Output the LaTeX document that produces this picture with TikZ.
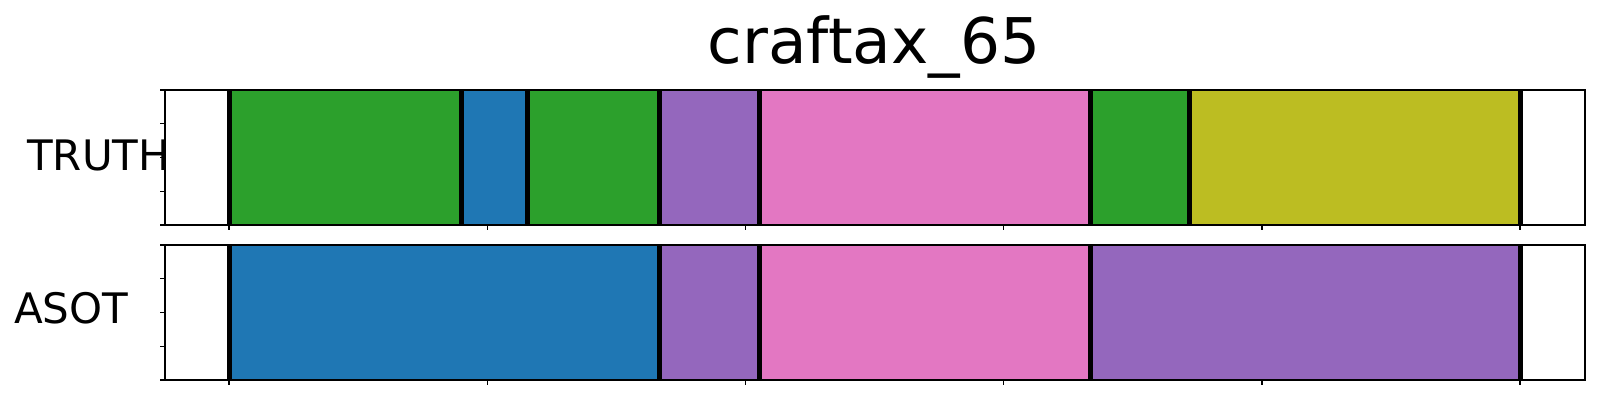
\documentclass[tikz,border=0pt]{standalone}
\usepackage{fontspec}
\setmainfont{DejaVu Sans}
\usepackage{xcolor}
\usepackage{tikz}
\usetikzlibrary{positioning}
\definecolor{tgreen}{HTML}{2CA02C}
\definecolor{tblue}{HTML}{1F77B4}
\definecolor{tpurple}{HTML}{9467BD}
\definecolor{tpink}{HTML}{E377C2}
\definecolor{tolive}{HTML}{BCBD22}
\tikzset{
  frame/.style={draw=black, line width=2pt, line join=miter},
  cut/.style={draw=black, line width=5pt},
  tick/.style={draw=black, line width=1.4pt},
  lab/.style={text=black, font=\fontsize{42}{50}\selectfont, inner sep=0pt},
  ttl/.style={text=black, font=\fontsize{63}{75}\selectfont, inner sep=0pt},
}
\begin{document}
\begin{tikzpicture}[x=1pt,y=-1pt]
\useasboundingbox[fill=white] (0,0) rectangle (1600,400);
% title and row labels
\node[ttl, anchor=base] (title) at (874,63) {craftax\_65};
\node[lab, anchor=base west] (truth) at (27,170) {TRUTH};
\node[lab, anchor=base west] (asot) at (14,323) {ASOT};
% TRUTH row
\fill[tgreen] (229,90) rectangle (461,225);
\fill[tblue] (461,90) rectangle (527,225);
\fill[tgreen] (527,90) rectangle (659,225);
\fill[tpurple] (659,90) rectangle (759,225);
\fill[tpink] (759,90) rectangle (1090,225);
\fill[tgreen] (1090,90) rectangle (1189,225);
\fill[tolive] (1189,90) rectangle (1520,225);
\draw[cut] (229,90) -- (229,225) (461,90) -- (461,225) (527,90) -- (527,225)
  (659,90) -- (659,225) (759,90) -- (759,225) (1090,90) -- (1090,225)
  (1189,90) -- (1189,225) (1520,90) -- (1520,225);
\draw[frame] (165,90) rectangle (1585,225);
% ASOT row
\fill[tblue] (229,245) rectangle (659,380);
\fill[tpurple] (659,245) rectangle (759,380);
\fill[tpink] (759,245) rectangle (1090,380);
\fill[tpurple] (1090,245) rectangle (1520,380);
\draw[cut] (229,245) -- (229,380) (659,245) -- (659,380) (759,245) -- (759,380)
  (1090,245) -- (1090,380) (1520,245) -- (1520,380);
\draw[frame] (165,245) rectangle (1585,380);
% ticks
\draw[tick] (160,90) -- (165,90) (160,123.75) -- (165,123.75) (160,157.5) -- (165,157.5)
  (160,191.25) -- (165,191.25) (160,225) -- (165,225);
\draw[tick] (160,245) -- (165,245) (160,278.75) -- (165,278.75) (160,312.5) -- (165,312.5)
  (160,346.25) -- (165,346.25) (160,380) -- (165,380);
\draw[tick] (229,225) -- (229,230) (487.2,225) -- (487.2,230) (745.4,225) -- (745.4,230)
  (1003.6,225) -- (1003.6,230) (1261.8,225) -- (1261.8,230) (1520,225) -- (1520,230);
\draw[tick] (229,380) -- (229,385) (487.2,380) -- (487.2,385) (745.4,380) -- (745.4,385)
  (1003.6,380) -- (1003.6,385) (1261.8,380) -- (1261.8,385) (1520,380) -- (1520,385);
\end{tikzpicture}
\end{document}
